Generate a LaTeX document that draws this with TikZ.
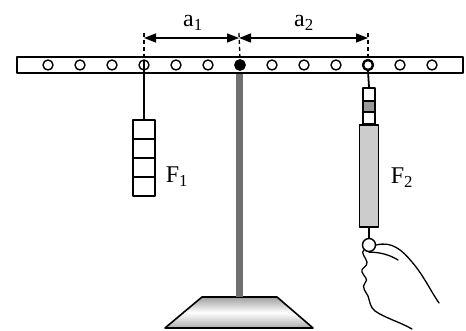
\documentclass[tikz,border=0pt]{standalone}
\usepackage{fontspec}
\setmainfont{Liberation Serif}
\usetikzlibrary{arrows.meta}
\begin{document}
\begin{tikzpicture}[x=1pt,y=-1pt,line join=round,
  hole/.style={circle,draw,line width=1.4pt,fill=white,minimum size=10pt,inner sep=0pt},
  outline/.style={draw,line width=1.5pt},
  weightbox/.style={outline,fill=white,minimum width=22pt,minimum height=19pt,inner sep=0pt},
  tick/.style={line width=1.3pt,dash pattern=on 4pt off 3pt},
  dim/.style={line width=1.5pt,{Triangle[length=12pt,width=9pt]}-{Triangle[length=12pt,width=9pt]}},
  lbl/.style={font=\fontsize{24}{26}\selectfont,inner sep=0pt},
  handline/.style={line width=1.3pt,line cap=round}]
\useasboundingbox (0,0) rectangle (466,331);

% stand: shaded foot and grey pole
\shade[top color=gray!75,bottom color=gray!65,middle color=white,draw=black,line width=1.6pt]
  (202,297) -- (277,297) -- (313,328) -- (165,328) -- cycle;
\fill[fill={rgb,255:red,112;green,112;blue,112}] (236,70) rectangle (243,297);

% lever with its row of holes
\draw[outline,fill=white] (17,57) rectangle (463,73);
\foreach \i in {1,...,13} \node[hole] (h\i) at ({16+32*\i},65) {};
\node[hole,fill=black] at (h7) {};
\node[hole,line width=2.4pt] at (h11) {};

% lever arms a1 and a2
\coordinate (d1) at (144,33);
\coordinate (d2) at (239,33);
\coordinate (d3) at (368,33);
\draw[tick] (d1) -- (h4.center);
\draw[tick] (d2) -- (h7.north);
\draw[tick] (d3) -- (h11.north);
\coordinate (e1) at (144,38);
\coordinate (e2) at (239,38);
\coordinate (e3) at (368,38);
\draw[dim] (e1) -- (e2);
\draw[dim] (e2) -- (e3);
\node[lbl] (a1) at (193,23) {a\textsubscript{1}};
\node[lbl] (a2) at (304,23) {a\textsubscript{2}};

% hanging weights
\node[weightbox] (w1) at (144,129.5) {};
\node[weightbox] (w2) at (144,148.5) {};
\node[weightbox] (w3) at (144,167.5) {};
\node[weightbox] (w4) at (144,186.5) {};
\draw[line width=1.2pt] (h4.center) -- (w1.north);
\node[lbl] (F1) at (177,177) {F\textsubscript{1}};

% spring balance
\node[outline,fill=white,minimum width=12pt,minimum height=13pt,inner sep=0pt] (s1) at (369,94.5) {};
\node[outline,fill=gray!80,minimum width=12pt,minimum height=11pt,inner sep=0pt] (s2) at (369,106.5) {};
\node[outline,fill=white,minimum width=12pt,minimum height=12pt,inner sep=0pt] (s3) at (369,118) {};
\node[outline,fill=gray!40,minimum width=19pt,minimum height=102pt,inner sep=0pt] (body) at (369,176) {};
\draw[line width=1.8pt] (h11.south) -- (s1.north);
\node[circle,draw,line width=1.4pt,fill=white,minimum size=13pt,inner sep=0pt] (ring) at (369,245) {};
\draw[line width=1.3pt] (body.south) -- (ring.north);
\node[lbl] (F2) at (402,178) {F\textsubscript{2}};

% hand holding the ring
\draw[handline] (ring.east) .. controls (392,241) and (402,250) .. (412,262)
  .. controls (424,276) and (430,290) .. (439,303);
\draw[handline] (ring.south) .. controls (380,252) and (390,255) .. (398,260);
\draw[handline] (ring.south west) .. controls (360,252) and (366,258) .. (367,262)
  .. controls (368,267) and (360,268) .. (362,272)
  .. controls (364,277) and (369,279) .. (365,283)
  .. controls (361,287) and (366,292) .. (368,296)
  .. controls (370,302) and (370,307) .. (375,311)
  .. controls (385,318) and (400,322) .. (412,329);
\end{tikzpicture}
\end{document}
